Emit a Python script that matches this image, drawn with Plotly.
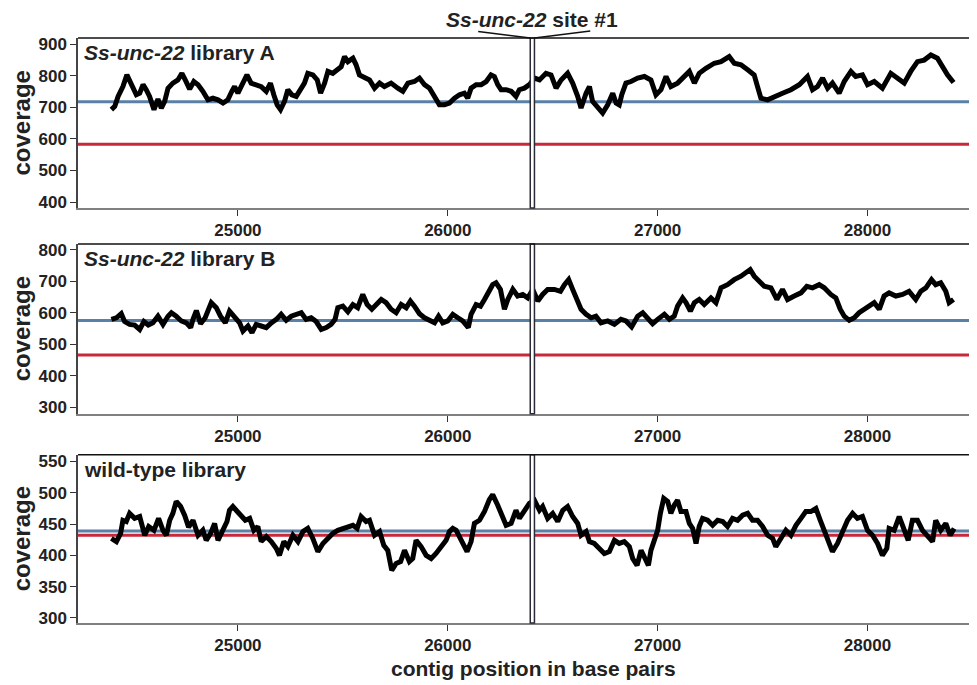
import plotly.graph_objects as go

# ---------------- data ----------------
pos_a = [24397, 24413, 24429, 24452, 24471, 24484, 24500, 24516, 24532, 24548, 24563, 24579, 24600, 24619, 24635, 24651,
         24667, 24690, 24714, 24733, 24749, 24770, 24790, 24810, 24833, 24857, 24881, 24905, 24929, 24952, 24971, 24984,
         25000, 25024, 25043, 25063, 25087, 25111, 25135, 25155, 25171, 25187, 25203, 25222, 25238, 25257, 25278, 25298,
         25317, 25333, 25357, 25378, 25394, 25413, 25429, 25452, 25473, 25492, 25508, 25524, 25548, 25563, 25579, 25603,
         25627, 25651, 25675, 25698, 25730, 25762, 25786, 25810, 25841, 25865, 25889, 25913, 25933, 25960, 25984, 26008,
         26032, 26056, 26079, 26095, 26111, 26135, 26159, 26183, 26206, 26222, 26238, 26254,
         26278, 26302, 26325, 26341, 26365, 26389, 26413, 26437, 26468, 26492, 26516, 26540, 26571, 26595, 26619, 26635,
         26659, 26675, 26690, 26714, 26738, 26762, 26786, 26802, 26817, 26829, 26849, 26873, 26905, 26937, 26968, 26992,
         27016, 27040, 27063, 27095, 27127, 27151, 27175, 27198, 27230, 27270, 27302, 27341, 27365, 27397, 27429, 27460,
         27476, 27492, 27524, 27556, 27595, 27635, 27675, 27714, 27738, 27762, 27786, 27810, 27833, 27865, 27889, 27921,
         27944, 27976, 28000, 28032, 28071, 28111, 28143, 28175, 28206, 28238, 28270, 28302, 28333, 28357, 28381, 28410]
cov_a = [693, 703, 735, 766, 803, 782, 761, 740, 745, 772, 756, 735, 693, 726, 698, 719,
         761, 777, 787, 808, 787, 758, 782, 772, 751, 724, 729, 724, 714, 724, 751, 766,
         745, 777, 803, 777, 772, 766, 751, 777, 740, 708, 693, 719, 756, 740, 735, 756,
         777, 808, 803, 787, 745, 777, 814, 808, 819, 829, 861, 845, 856, 835, 803, 793,
         787, 761, 777, 766, 777, 761, 751, 777, 782, 793, 772, 761, 735, 708, 708, 714,
         729, 740, 745, 729, 761, 772, 772, 782, 803, 798, 772, 756,
         756, 751, 735, 756, 761, 772, 793, 787, 808, 803, 761, 787, 808, 777, 735, 698,
         745, 766, 719, 698, 682, 708, 745, 714, 708, 740, 777, 782, 793, 798, 787, 740,
         756, 798, 766, 777, 798, 814, 777, 808, 824, 840, 845, 861, 840, 835, 819, 803,
         766, 729, 724, 735, 745, 756, 772, 798, 756, 766, 793, 761, 777, 745, 782, 814,
         798, 803, 772, 782, 761, 808, 793, 777, 814, 845, 850, 866, 856, 829, 803, 779]

pos_b = [24397, 24421, 24444, 24460, 24484, 24508, 24532, 24552, 24573, 24595, 24619, 24643, 24667, 24683, 24706, 24730,
         24754, 24775, 24786, 24802, 24822, 24844, 24873, 24897, 24917, 24940, 24960, 24984, 25008, 25024, 25048, 25067,
         25087, 25111, 25135, 25159, 25183, 25206, 25230, 25254, 25278, 25302, 25325, 25349, 25373, 25397, 25421, 25444,
         25463, 25476, 25500, 25524, 25548, 25571, 25595, 25616, 25638, 25659, 25683, 25706, 25730, 25754, 25778, 25802,
         25822, 25841, 25865, 25889, 25913, 25937, 25956, 25976, 26000, 26024, 26048, 26071, 26098, 26111, 26135, 26156,
         26175, 26194, 26214, 26230, 26251,
         26270, 26286, 26310, 26333, 26357, 26381, 26405, 26429, 26452, 26476, 26508, 26537, 26556, 26576, 26595, 26616,
         26635, 26659, 26683, 26706, 26730, 26762, 26794, 26825, 26849, 26876, 26905, 26929, 26952, 26976, 27000, 27032,
         27056, 27079, 27095, 27119, 27135, 27156, 27175, 27198, 27222, 27254, 27278, 27302, 27333, 27365, 27397, 27421,
         27441, 27460, 27484, 27508, 27540, 27568, 27595, 27619, 27651, 27683, 27711, 27738, 27770, 27794, 27825, 27849,
         27870, 27889, 27913, 27937, 27960, 27984, 28008, 28032, 28056, 28079, 28103, 28135, 28167, 28198, 28230, 28254,
         28278, 28305, 28325, 28349, 28373, 28389, 28410]
cov_b = [579, 584, 597, 572, 563, 561, 547, 572, 561, 568, 589, 563, 589, 600, 589, 574,
         568, 553, 579, 607, 565, 584, 632, 616, 589, 568, 605, 589, 568, 542, 558, 537,
         563, 558, 553, 568, 579, 595, 576, 589, 595, 600, 579, 584, 572, 547, 553, 563,
         579, 616, 621, 603, 626, 616, 658, 626, 611, 626, 642, 632, 611, 600, 626, 616,
         637, 621, 597, 584, 574, 568, 589, 568, 574, 595, 584, 574, 553, 595, 626, 621,
         642, 663, 689, 695, 674,
         611, 642, 674, 653, 658, 647, 674, 637, 658, 674, 674, 668, 689, 705, 674, 642,
         611, 595, 584, 589, 568, 574, 563, 579, 574, 555, 589, 600, 584, 565, 579, 595,
         579, 589, 621, 647, 632, 605, 632, 642, 626, 647, 632, 679, 689, 705, 716, 726,
         737, 716, 700, 684, 679, 642, 674, 642, 653, 663, 684, 679, 689, 679, 658, 647,
         611, 589, 576, 584, 600, 611, 621, 632, 611, 653, 663, 653, 658, 668, 642, 668,
         679, 705, 689, 695, 668, 632, 642]

pos_wt = [24397, 24421, 24441, 24452, 24468, 24484, 24508, 24532, 24556, 24575, 24600, 24622, 24643, 24659, 24675, 24690,
          24706, 24727, 24746, 24765, 24786, 24810, 24833, 24849, 24870, 24889, 24905, 24925, 24948, 24960, 24976, 24997,
          25016, 25035, 25056, 25076, 25095, 25111, 25135, 25159, 25183, 25198, 25219, 25238, 25262, 25286, 25310, 25333,
          25357, 25381, 25405, 25429, 25452, 25476, 25500, 25524, 25548, 25568, 25587, 25611, 25627, 25651, 25675, 25695,
          25714, 25733, 25754, 25775, 25794, 25817, 25833, 25849, 25873, 25897, 25921, 25944, 25968, 25992, 26008, 26024,
          26040, 26063, 26092, 26111, 26127, 26151, 26175, 26198, 26214, 26238, 26262,
          26278, 26302, 26325, 26341, 26365, 26389, 26413, 26437, 26452, 26476, 26500, 26524, 26548, 26571, 26595, 26619,
          26635, 26659, 26675, 26698, 26722, 26746, 26770, 26794, 26817, 26841, 26865, 26881, 26902, 26921, 26940, 26956,
          26968, 26984, 27000, 27013, 27029, 27048, 27063, 27079, 27095, 27111, 27135, 27151, 27167, 27183, 27198, 27214,
          27238, 27262, 27286, 27310, 27333, 27357, 27381, 27405, 27429, 27452, 27476, 27500, 27524, 27548, 27563, 27587,
          27611, 27635, 27659, 27683, 27706, 27730, 27754, 27775, 27794, 27817, 27833, 27857, 27881, 27905, 27929, 27952,
          27976, 28000, 28024, 28048, 28071, 28092, 28103, 28127, 28151, 28175, 28194, 28214, 28238, 28262, 28286, 28310,
          28325, 28349, 28373, 28394, 28413]
cov_wt = [427, 422, 435, 456, 454, 467, 459, 462, 432, 446, 440, 459, 440, 432, 456, 467,
          486, 478, 464, 445, 456, 432, 440, 424, 435, 451, 424, 440, 454, 472, 478, 470,
          464, 456, 459, 440, 446, 422, 430, 422, 411, 400, 422, 414, 432, 422, 438, 443,
          427, 406, 419, 427, 435, 440, 443, 446, 448, 443, 462, 454, 456, 432, 438, 416,
          408, 376, 387, 390, 408, 390, 395, 424, 414, 400, 395, 403, 414, 424, 438, 443,
          440, 424, 406, 422, 451, 456, 470, 489, 497, 480, 462,
          448, 451, 472, 459, 472, 483, 488, 472, 478, 459, 467, 454, 472, 478, 462, 451,
          432, 438, 422, 419, 411, 403, 406, 424, 419, 422, 414, 395, 384, 408, 395, 384,
          408, 424, 440, 467, 491, 486, 467, 480, 488, 470, 470, 451, 443, 419, 446, 459,
          456, 448, 456, 454, 446, 459, 456, 464, 467, 456, 456, 446, 432, 427, 414, 427,
          440, 432, 448, 459, 470, 470, 475, 456, 440, 419, 406, 419, 438, 456, 467, 459,
          462, 440, 432, 419, 400, 411, 443, 440, 462, 443, 424, 456, 456, 440, 432, 422,
          456, 440, 451, 432, 443]

panel_titles = ["<i>Ss-unc-22</i> library A", "<i>Ss-unc-22</i> library B", "wild-type library"]
blue_levels = [718, 575.5, 438.8]
red_levels = [583, 466, 432]
y_ranges = [[381, 920], [280, 818], [292, 560.7]]
y_ticks = [[400, 500, 600, 700, 800, 900], [300, 400, 500, 600, 700, 800], [300, 350, 400, 450, 500, 550]]
x_ticks = [25000, 26000, 27000, 28000]
x_tick_labels = ["25000", "26000", "27000", "28000"]
x_range = [24238, 28517]
site_left, site_right = 26393, 26413
site_label = "<i>Ss-unc-22</i> site #1"
x_title = "contig position in base pairs"
y_title = "coverage"

# ---------------- layout geometry ----------------
# the page adds an 8px body margin, so the figure is sized to compensate
W, H = 969, 677
ML, MR, MT, MB = 70, 1, 30, 62
PW = W - ML - MR
PH = H - MT - MB
PAGE_OFF = 8


def px_x(xpx):
    return (xpx - PAGE_OFF - ML) / PW


def px_y(ypx):
    return (H - MB - (ypx - PAGE_OFF)) / PH


domains = [[0.7094, 1.0], [0.3578, 0.6479], [0.0, 0.2877]]
FONT = "Liberation Sans, Arial, Helvetica, sans-serif"
BLUE = "#5a80a6"
RED = "#c8283a"
SITE = "#2b2b38"
TXT = "#222222"

series = [(pos_a, cov_a), (pos_b, cov_b), (pos_wt, cov_wt)]

fig = go.Figure()
shapes = []
annotations = []

for i, (px, py) in enumerate(series):
    xa = "x" if i == 0 else f"x{i+1}"
    ya = "y" if i == 0 else f"y{i+1}"
    for lvl, col in ((red_levels[i], RED), (blue_levels[i], BLUE)):
        fig.add_trace(go.Scatter(x=x_range, y=[lvl, lvl], mode="lines",
                                 line=dict(color=col, width=3), xaxis=xa, yaxis=ya,
                                 hoverinfo="skip", showlegend=False))
    fig.add_trace(go.Scatter(x=px, y=py, mode="lines",
                             line=dict(color="black", width=5),
                             xaxis=xa, yaxis=ya, showlegend=False))
    shapes.append(dict(type="rect", xref=xa, yref=f"{ya} domain", x0=site_left, x1=site_right,
                       y0=0, y1=1, fillcolor="white", line=dict(color=SITE, width=1.5), layer="above"))
    shapes.append(dict(type="line", xref="paper", yref=f"{ya} domain", x0=0, x1=1, y0=1, y1=1,
                       line=dict(color="#111111", width=1.5), layer="above"))
    annotations.append(dict(text=panel_titles[i], xref="paper", yref=f"{ya} domain",
                            x=0.004, y=0.995, xanchor="left", yanchor="top", showarrow=False,
                            font=dict(family=FONT, size=21, color=TXT, weight="bold")))
    annotations.append(dict(text=y_title, xref="paper", yref=f"{ya} domain",
                            x=px_x(21.5), y=0.5, xanchor="center", yanchor="middle",
                            textangle=-90, showarrow=False,
                            font=dict(family=FONT, size=24, color=TXT, weight="bold")))

    axis_common = dict(showgrid=False, zeroline=False, ticks="outside", tickcolor="#333333",
                       tickfont=dict(family=FONT, size=17, color=TXT, weight="bold"))
    xkey = "xaxis" if i == 0 else f"xaxis{i+1}"
    ykey = "yaxis" if i == 0 else f"yaxis{i+1}"
    fig.update_layout(**{
        xkey: dict(range=x_range, tickvals=x_ticks, ticktext=x_tick_labels, ticklen=6, showline=True,
                   linecolor="#808080", linewidth=2, anchor=ya, domain=[0, 1], **axis_common),
        ykey: dict(range=y_ranges[i], tickvals=y_ticks[i], ticklen=6, showline=True,
                   linecolor="#444444", linewidth=1.5, anchor=xa, domain=domains[i], **axis_common),
    })

# callout above the top panel
shapes.append(dict(type="line", xref="x", yref="paper", x0=26145, x1=site_left,
                   y0=px_y(31.5), y1=1.0, line=dict(color="#111111", width=1.3)))
shapes.append(dict(type="line", xref="x", yref="paper", x0=site_right, x1=26679,
                   y0=1.0, y1=px_y(31.0), line=dict(color="#111111", width=1.3)))
annotations.append(dict(text=site_label, xref="x", yref="paper", x=(site_left + site_right) / 2,
                        y=px_y(19.5), xanchor="center", yanchor="middle", showarrow=False,
                        font=dict(family=FONT, size=21, color=TXT, weight="bold")))
annotations.append(dict(text=x_title, xref="paper", yref="paper", x=px_x(533),
                        y=px_y(668), xanchor="center", yanchor="middle", showarrow=False,
                        font=dict(family=FONT, size=21, color=TXT, weight="bold")))

fig.update_layout(width=W, height=H, margin=dict(l=ML, r=MR, t=MT, b=MB, autoexpand=False),
                  paper_bgcolor="white", plot_bgcolor="white", shapes=shapes,
                  annotations=annotations, showlegend=False)

fig.write_html("out.html")
